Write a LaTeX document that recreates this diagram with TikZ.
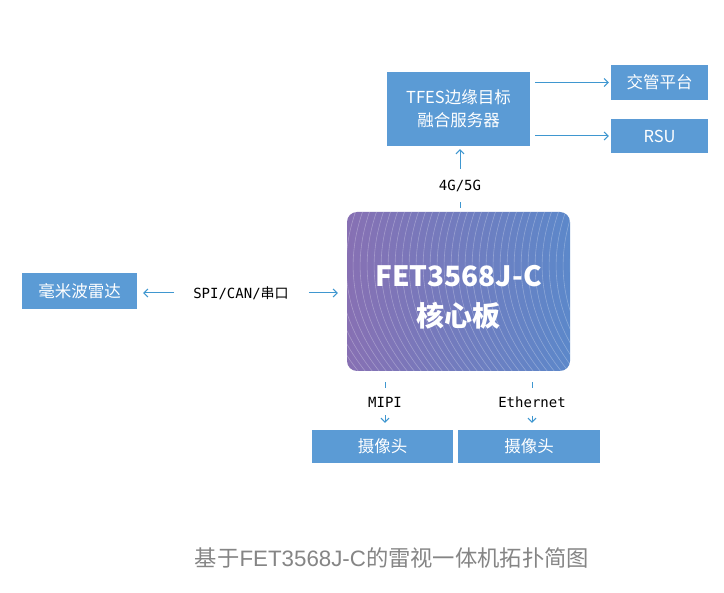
\documentclass[tikz,border=0pt]{standalone}
\usepackage{fontspec}
\setmainfont{Noto Sans CJK SC}
\newfontfamily\mono{DejaVu Sans Mono}
\newfontfamily\lat{Liberation Sans}
\usetikzlibrary{arrows.meta}
\definecolor{boxblue}{HTML}{5B9BD5}
\definecolor{arrblue}{HTML}{3F97D0}
\definecolor{coreL}{HTML}{8770B3}
\definecolor{coreR}{HTML}{5C88CA}
\definecolor{capgray}{HTML}{858585}
\begin{document}
\begin{tikzpicture}[x=1pt,y=-1pt,
  bbox/.style={draw=none, fill=boxblue, text=white, inner sep=0pt, align=center,
    font=\fontsize{16.5}{23}\selectfont},
  lbl/.style={inner sep=0pt, text=black, font=\mono\fontsize{14}{16}\selectfont},
  conn/.style={draw=arrblue, line width=1pt},
  arr/.style={conn, -{Straight Barb[length=4pt,width=8pt]}},
  corebox/.style={draw=none, rounded corners=10pt, left color=coreL, right color=coreR,
    minimum width=223pt, minimum height=159pt, inner sep=0pt},
  coretext/.style={text=white, align=center, inner sep=0pt,
    font=\bfseries\fontsize{28}{40}\selectfont}]
\fill[white] (0,0) rectangle (724,593);
\useasboundingbox (0,0) rectangle (724,593);

% boxes
\node[bbox, minimum width=143pt, minimum height=74pt] (tfes) at (458.5,109) {TFES边缘目标\\融合服务器};
\node[bbox, minimum width=97pt, minimum height=35pt] (jg) at (659.5,82.5) {交管平台};
\node[bbox, minimum width=97pt, minimum height=34pt] (rsu) at (659.5,136) {RSU};
\node[bbox, minimum width=115pt, minimum height=36pt] (radar) at (79.5,291) {毫米波雷达};
\node[bbox, minimum width=141pt, minimum height=33pt] (cam1) at (382.5,446.5) {摄像头};
\node[bbox, minimum width=142pt, minimum height=33pt] (cam2) at (529,446.5) {摄像头};

% core board
\node[corebox] (core) at (458.5,291.5) {};
\begin{scope}
  \clip[rounded corners=10pt] (core.north west) rectangle (core.south east);
  \foreach \i in {0,...,44}{
    \draw[white, opacity=0.28, line width=0.6pt]
      (330+\i*7,205) .. controls (305+\i*7,270) and (320+\i*7,330) .. (370+\i*7,385);
  }
\end{scope}
\node[coretext] (coret) at ([yshift=-6pt]core.center) {FET3568J-C\\核心板};

% labels
\node[lbl] (l4g) at (460,186) {4G/5G};
\node[lbl] (spi) at (241,293) {SPI/CAN/{\rmfamily 串口}};
\node[lbl] (mipi) at (385,402) {MIPI};
\node[lbl] (eth) at (532,402) {Ethernet};

% connectors
\draw[arr, shorten <=5pt, shorten >=2pt] (tfes.east |- jg.west) -- (jg.west);
\draw[arr, shorten <=5pt, shorten >=2pt] (tfes.east |- rsu.west) -- (rsu.west);
\draw[arr, shorten <=11pt, shorten >=3pt] (l4g.north) -- (l4g.north |- tfes.south);
\draw[conn] ([yshift=4pt]l4g.north |- core.north) -- ([yshift=10pt]l4g.north |- core.north);
\draw[arr, shorten <=19pt, shorten >=6pt] (spi.west) -- (radar.east |- spi.west);
\draw[arr, shorten <=20pt, shorten >=9pt] (spi.east) -- (core.west |- spi.east);
\draw[conn] ([yshift=-11pt]mipi.north |- core.south) -- ([yshift=-17pt]mipi.north |- core.south);
\draw[arr, shorten <=8pt, shorten >=7pt] (mipi.south) -- (mipi.south |- cam1.north);
\draw[conn] ([yshift=-11pt]eth.north |- core.south) -- ([yshift=-17pt]eth.north |- core.south);
\draw[arr, shorten <=8pt, shorten >=7pt] (eth.south) -- (eth.south |- cam2.north);

% caption
\node[text=capgray, inner sep=0pt, font=\fontsize{22.3}{24}\selectfont] (cap) at (392,558)
  {基于{\lat FET3568J-C}的雷视一体机拓扑简图};
\end{tikzpicture}
\end{document}
